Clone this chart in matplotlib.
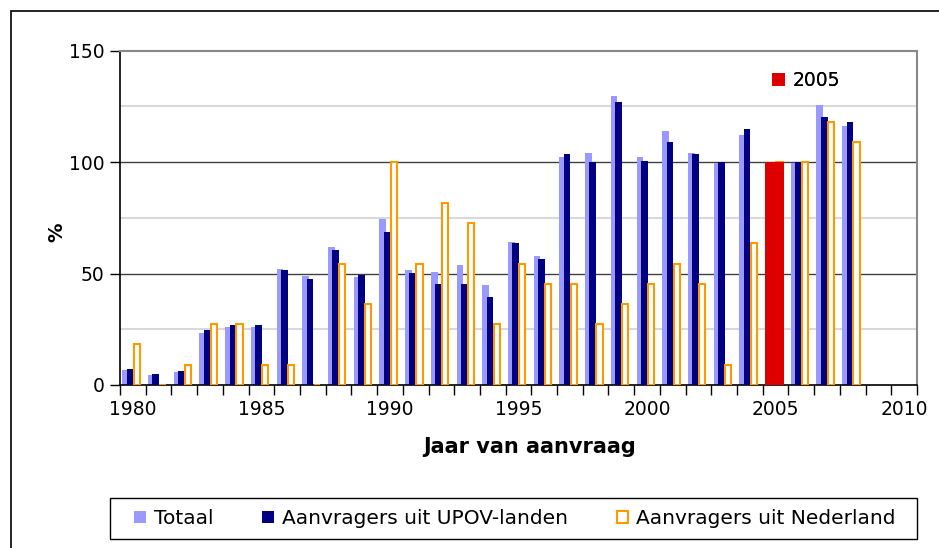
import numpy as np
import matplotlib
matplotlib.use("Agg")
import matplotlib.pyplot as plt
from matplotlib.patches import Patch, Rectangle

# Jaren 1980-2008, index 2005 = 100
years = list(range(1980, 2009))
totaal = [6.7, 4.3, 5.8, 23.5, 25.9, 25.9, 52.2, 49.0, 61.9, 48.3,
          74.5, 51.6, 50.5, 53.7, 44.9, 64.2, 57.7, 102.4, 104.1, 129.7,
          102.4, 113.8, 104.1, 99.4, 112.2, 100.0, 99.4, 125.6, 116.2]
upov = [7.0, 4.8, 6.3, 24.7, 26.9, 26.9, 51.7, 47.7, 60.6, 49.3,
        68.5, 50.2, 45.3, 45.3, 39.6, 63.6, 56.5, 103.6, 100.0, 126.8,
        100.5, 109.2, 103.6, 100.0, 114.7, 100.0, 100.0, 120.4, 118.0]
nederland = [18.2, 0, 9.1, 27.3, 27.3, 9.1, 9.1, 0, 54.5, 36.4,
             100.0, 54.5, 81.8, 72.7, 27.3, 54.5, 45.5, 45.5, 27.3, 36.4,
             45.5, 54.5, 45.5, 9.1, 63.6, 100.0, 100.0, 118.2, 109.1]
basisjaar = 2005
year_labels = ["1980", "1985", "1990", "1995", "2000", "2005", "2010"]

c_tot = "#9999FF"
c_upov = "#000080"
c_ned = "#FF9900"
c_red = "#DD0000"

fig = plt.figure(figsize=(9.39, 5.48), dpi=100)
ax = fig.add_axes([120 / 939, 1 - 385 / 548, 797 / 939, 334.3 / 548])

# buitenrand van het diagram
fig.patches.append(Rectangle((11 / 939, -0.1), 1.2, 1 - 11 / 548 + 0.1,
                             transform=fig.transFigure, fill=False,
                             edgecolor="black", linewidth=1.2))

x = np.array(years) - 1980
w = 0.26
ax.bar(x + 0.09, totaal, w, align="edge", color=c_tot, zorder=2)
ax.bar(x + 0.26, upov, w, align="edge", color=c_upov, zorder=3)
ax.bar(x + 0.53, nederland, w - 0.02, align="edge", color="white",
       edgecolor=c_ned, linewidth=1.5, zorder=4)
i05 = years.index(basisjaar)
ax.bar(x[i05] + 0.09, 100, 0.74, align="edge", color=c_red, zorder=5)

ax.set_xlim(0, 31)
ax.set_ylim(0, 150)

# rasterlijnen
for v in [25, 75, 125]:
    ax.axhline(v, color="#D9D9D9", linewidth=1.5, zorder=1)
for v in [50, 100]:
    ax.axhline(v, color="#404040", linewidth=1.0, zorder=1)

ax.set_yticks([0, 50, 100, 150])
ax.tick_params(axis="y", direction="out", length=7, width=1,
               labelsize=13.5, pad=4)
ax.set_xticks(range(32))
ax.set_xticklabels([])
ax.tick_params(axis="x", which="major", direction="out", length=7, width=1)
ax.set_xticks([i * 5 + 0.5 for i in range(len(year_labels))], minor=True)
ax.set_xticklabels(year_labels, minor=True)
ax.tick_params(axis="x", which="minor", length=0, labelsize=13.5, pad=11)

for s in ["top", "right"]:
    ax.spines[s].set_color("#888888")
    ax.spines[s].set_linewidth(1.5)
for s in ["left", "bottom"]:
    ax.spines[s].set_color("black")
    ax.spines[s].set_linewidth(1.2)

ax.set_ylabel("%", fontsize=14, fontweight="bold")
ax.yaxis.set_label_coords(-0.0678, 0.456)
ax.set_xlabel("Jaar van aanvraag", fontsize=15, fontweight="bold")
ax.xaxis.set_label_coords(0.5135, -0.157)

# legenda 2005
leg2 = ax.legend(handles=[Patch(facecolor=c_red, label="2005")],
                 loc="upper left", bbox_to_anchor=(0.797, 0.99),
                 frameon=False, fontsize=13.5, handlelength=0.7,
                 handleheight=0.7, handletextpad=0.4)
ax.add_artist(leg2)

# legenda onder het diagram
fig.patches.append(Rectangle((110 / 939, 1 - 539 / 548), 807 / 939, 41 / 548,
                             transform=fig.transFigure, fill=False,
                             edgecolor="black", linewidth=1.0))
handles = [Patch(facecolor=c_tot, label="Totaal"),
           Patch(facecolor=c_upov, label="Aanvragers uit UPOV-landen"),
           Patch(facecolor="white", edgecolor=c_ned, linewidth=1.5,
                 label="Aanvragers uit Nederland")]
leg = fig.legend(handles=handles, ncol=3, loc="center",
                 bbox_to_anchor=(515 / 939, 1 - 518.5 / 548),
                 fontsize=14.5, frameon=False,
                 handlelength=0.55, handleheight=0.55, handletextpad=0.4,
                 borderaxespad=0, columnspacing=2.45)

fig.savefig("out.png", dpi=100)
